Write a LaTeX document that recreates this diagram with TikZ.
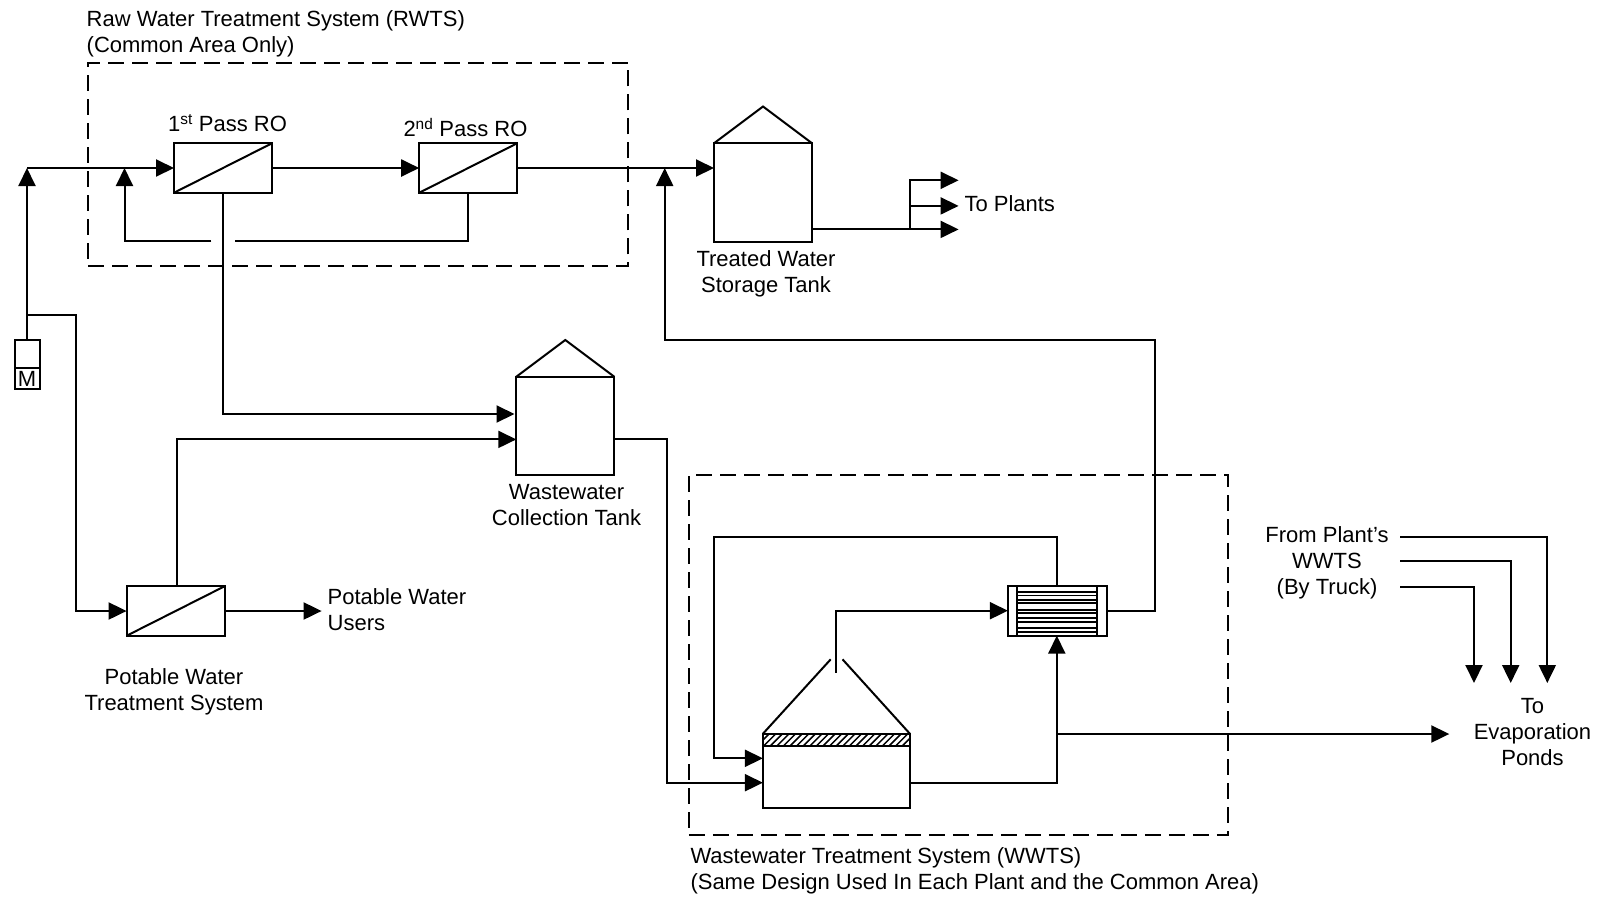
\documentclass[tikz,border=0pt]{standalone}
\usepackage{fontspec}
\setmainfont{Liberation Sans}
\usetikzlibrary{arrows.meta}
\definecolor{ink}{gray}{0}
\tikzset{
  every node/.style={outer sep=0pt,inner sep=0pt,text=ink},
  lab/.style={font=\fontsize{22}{26}\selectfont,align=center},
  labl/.style={font=\fontsize{22}{26}\selectfont,align=left,anchor=west},
  unit/.style={draw=ink,line width=2pt,rectangle},
  membrane/.style={unit,minimum width=98pt,minimum height=49.5pt},
  tankbody/.style={unit,minimum width=98pt,minimum height=98.5pt},
  pipe/.style={draw=ink,line width=2pt},
  flow/.style={pipe,-{Triangle[length=18pt,width=17pt]}},
  sysbox/.style={draw=ink,line width=2pt,dash pattern=on 16pt off 8pt,rectangle}
}
\begin{document}
\begin{tikzpicture}[x=1pt,y=-1pt]
\useasboundingbox[fill=white] (0,0) rectangle (1606,898);

% system boundaries
\node[sysbox,minimum width=540pt,minimum height=203.5pt] (rwts) at (358,164.5) {};
\node[sysbox,minimum width=539.5pt,minimum height=360pt] (wwts) at (958.7,655.3) {};

% membranes
\node[membrane] (ro1) at (223,168) {};
\node[membrane] (ro2) at (468.2,168) {};
\node[membrane] (pw) at (175.6,611) {};
\foreach \m in {ro1,ro2,pw} \draw[pipe] (\m.south west) -- (\m.north east);

% pump
\node[unit,minimum width=25pt,minimum height=49.5pt] (pump) at (27,364.7) {};
\node[unit,minimum width=25pt,minimum height=21.5pt,font=\fontsize{22}{26}\selectfont] (motor) at (27,378.7) {M};

% storage tanks
\node[tankbody] (tt) at (763,192.5) {};
\coordinate (ttapex) at (763,106.5);
\draw[pipe,line join=miter] (tt.north west) -- (ttapex) -- (tt.north east);
\node[tankbody] (wt) at (565.3,426) {};
\coordinate (wtapex) at (565.3,340);
\draw[pipe,line join=miter] (wt.north west) -- (wtapex) -- (wt.north east);

% clarifier
\node[unit,minimum width=147pt,minimum height=74pt] (cl) at (836.4,771) {};
\node[unit,minimum width=147pt,minimum height=12.5pt] (hatch) at (836.4,740) {};
\begin{scope}
  \clip (hatch.south west) rectangle (hatch.north east);
  \foreach \i in {0,6.6,...,170} \draw[draw=ink,line width=1.5pt] (755+\i,748) -- (771+\i,732);
\end{scope}
\node[unit,minimum width=147pt,minimum height=12.5pt] (hatchedge) at (836.4,740) {};
\coordinate (roofl) at (830.7,659.3);
\coordinate (roofr) at (842.5,659.3);
\draw[pipe] (hatch.north west) -- (roofl);
\draw[pipe] (hatch.north east) -- (roofr);

% heat exchanger
\node[unit,minimum width=98.5pt,minimum height=49.5pt] (hx) at (1057.3,610.8) {};
\coordinate (hxl) at (1017,586);
\coordinate (hxr) at (1096.8,586);
\draw[pipe] (hxl) -- (hxl |- hx.south);
\draw[pipe] (hxr) -- (hxr |- hx.south);
\foreach \y/\w in {592.3/1.7,595.5/1.7,600/2,603.3/2,610/1.7,613/1.7,618.3/1.7,621.7/1.7,628.3/1.7,631.7/1.7}
  \draw[draw=ink,line width=\w pt] (1017,\y) -- (1096.8,\y);

% free ends
\coordinate (main0) at (27,168);
\coordinate (brk) at (27,315);
\coordinate (brkc) at (76,315);
\coordinate (gapr) at (234.7,241.3);
\coordinate (gapl) at (211.4,241.3);
\coordinate (rec) at (124.5,241.3);
\coordinate (rectip) at (124.5,168);
\coordinate (wt1) at (514.5,414);
\coordinate (wt2) at (516.3,439.4);
\coordinate (wtout) at (614.3,439.4);
\coordinate (rettip) at (664.7,168);
\coordinate (retc) at (1155,340);
\coordinate (split) at (909.5,229.4);
\coordinate (ttout) at (812,229.4);
\coordinate (pl1) at (958.6,180.3);
\coordinate (pl2) at (958.6,205.9);
\coordinate (pl3) at (958.6,229.4);
\coordinate (clr) at (910,782.7);
\coordinate (cll) at (762.9,782.7);
\coordinate (cll2) at (762.9,758.3);
\coordinate (drain) at (1056.8,734);
\coordinate (draintip) at (1449.3,734);
\coordinate (overf) at (836.4,672.7);
\coordinate (recyc) at (713.6,537);
\coordinate (pwuse) at (321.6,611);
\coordinate (wtx) at (666.7,439.4);
\coordinate (pwtop) at (177.2,586);
\coordinate (ev1a) at (1400,536.7);
\coordinate (ev1b) at (1547.3,683);
\coordinate (ev2a) at (1400,561.3);
\coordinate (ev2b) at (1510.7,683);
\coordinate (ev3a) at (1400,586.7);
\coordinate (ev3b) at (1474,683);
\coordinate (hxtop) at (1056.8,586);
\coordinate (hxbot) at (1056.8,635.6);
\coordinate (hxin) at (1007.9,610.7);
\coordinate (hxout) at (1106.8,610.7);

% connectors
\draw[flow] (pump.north) -- (main0);
\draw[flow] (main0) -- (ro1.west);
\draw[flow] (ro1.east) -- (ro2.west);
\draw[flow] (ro2.east) -- (tt.west |- ro2.east);
\draw[pipe] (ro2.south) |- (gapr);
\draw[flow] (gapl) -- (rec) -- (rectip);
\draw[flow] (ro1.south) |- (wt1);
\draw[flow] (brk) -- (brkc) |- (pw.west);
\draw[flow] (pwtop) |- (wt2);
\draw[flow] (pw.east) -- (pwuse);
\draw[flow] (wtout) -- (wtx) |- (cll);
\draw[flow] (hxout) -| (retc) -| (rettip);
\draw[pipe] (ttout) -- (split);
\draw[flow] (split) -- (pl3);
\draw[flow] (split) |- (pl1);
\draw[flow] (split |- pl2) -- (pl2);
\draw[flow] (hxtop) |- (recyc) |- (cll2);
\draw[flow] (overf) |- (hxin);
\draw[flow] (clr) -| (hxbot);
\draw[flow] (drain) -- (draintip);
\draw[flow] (ev1a) -| (ev1b);
\draw[flow] (ev2a) -| (ev2b);
\draw[flow] (ev3a) -| (ev3b);

% labels
\node[labl] (t1) at (86.7,33.8) {Raw Water Treatment System (RWTS)\\(Common Area Only)};
\node[lab] (t2) at (227.5,123) {1\textsuperscript{st} Pass RO};
\node[lab] (t3) at (465.5,127.5) {2\textsuperscript{nd} Pass RO};
\node[lab] (t4) at (766,273.5) {Treated Water\\Storage Tank};
\node[labl] (t5) at (964.5,203.5) {To Plants};
\node[lab] (t6) at (566.5,505.5) {Wastewater\\Collection Tank};
\node[labl] (t7) at (327.7,610) {Potable Water\\Users};
\node[lab] (t8) at (174,692) {Potable Water\\Treatment System};
\node[lab] (t9) at (1327,562.5) {From Plant's\\WWTS\\(By Truck)};
\node[lab] (t10) at (1532.5,732.5) {To\\Evaporation\\Ponds};
\node[labl] (t11) at (690.5,870.5) {Wastewater Treatment System (WWTS)\\(Same Design Used In Each Plant and the Common Area)};
\end{tikzpicture}
\end{document}
